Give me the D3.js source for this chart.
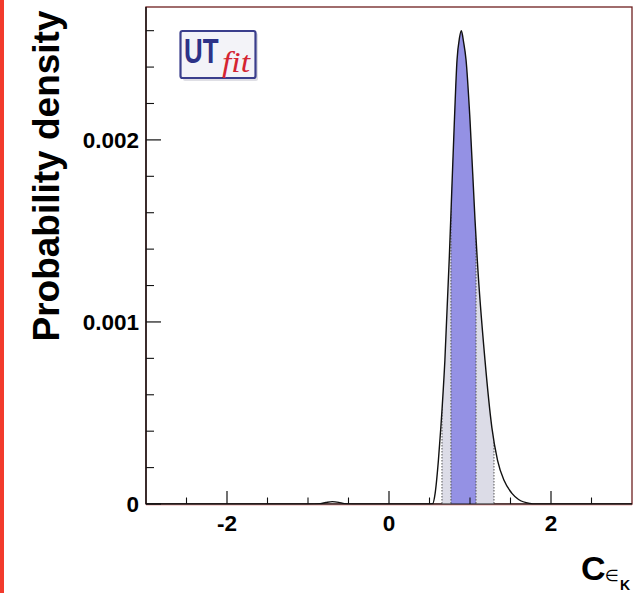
<!DOCTYPE html>
<html>
<head>
<meta charset="utf-8">
<script src="https://cdn.jsdelivr.net/npm/d3@7"></script>
<style>
  html, body { margin: 0; padding: 0; background: #fff; }
  svg { display: block; }
</style>
</head>
<body>
<svg id="chart" width="634" height="593"></svg>
<script>
// Posterior density of C_epsK
const cK = [-3.0, -1.0, -0.85, -0.78, -0.70, -0.62, -0.55, -0.45, 0.0, 0.50, 0.54, 0.57, 0.61, 0.64,
            0.69, 0.745, 0.77, 0.806, 0.84, 0.87, 0.893, 0.92, 0.951, 1.0, 1.062, 1.09, 1.185,
            1.27, 1.34, 1.42, 1.515, 1.6, 1.74, 1.8, 3.0];
const density = [0, 0, 0.000002, 0.000008, 0.000013, 0.000009, 0.000002, 0, 0, 0, 0.000002, 0.00006, 0.00024, 0.00042,
                 0.00079, 0.00136, 0.00166, 0.00209, 0.00244, 0.00256, 0.00260, 0.00254, 0.00244, 0.00211, 0.00156, 0.00134, 0.00079,
                 0.00042, 0.00024, 0.00013, 0.00006, 0.000025, 0.000003, 0, 0];

// Credible intervals: 68% and 95%
const band68 = [0.765, 1.074];
const band95 = [0.654, 1.296];

const xMajorTicks = [-2, 0, 2];
const xMinorTicks = [-2.5, -1.5, -1, -0.5, 0.5, 1, 1.5, 2.5];
const yMajorTicks = [0, 0.001, 0.002];
const yMinorTicks = [0.0002, 0.0004, 0.0006, 0.0008, 0.0012, 0.0014, 0.0016, 0.0018, 0.0022, 0.0024, 0.0026];

const svg = d3.select("#chart");
const L = 146, R = 632, T = 7, B = 504;

const x = d3.scaleLinear().domain([-3, 3]).range([L, R]);
const y = d3.scaleLinear().domain([0, 0.00273]).range([B, T]);

const pts = cK.map((v, i) => [v, density[i]]);

// left red strip
svg.append("rect").attr("x", 0).attr("y", 0).attr("width", 4).attr("height", 593).attr("fill", "#f23a2c");

// frame
svg.append("rect").attr("x", L).attr("y", T).attr("width", R - L).attr("height", B - T)
  .attr("fill", "none").attr("stroke", "#6e1f1f").attr("stroke-width", 1.3);

const area = d3.area().x(d => x(d[0])).y0(y(0)).y1(d => y(d[1])).curve(d3.curveMonotoneX);
const line = d3.line().x(d => x(d[0])).y(d => y(d[1])).curve(d3.curveMonotoneX);

const defs = svg.append("defs");
defs.append("clipPath").attr("id", "under").append("path").attr("d", area(pts));

const g = svg.append("g").attr("clip-path", "url(#under)");
g.append("rect").attr("x", x(band95[0])).attr("width", x(band95[1]) - x(band95[0]))
  .attr("y", T).attr("height", B - T).attr("fill", "#dcdce7");
g.append("rect").attr("x", x(band68[0])).attr("width", x(band68[1]) - x(band68[0]))
  .attr("y", T).attr("height", B - T).attr("fill", "#9491e4");
[band95[0], band68[0], band68[1], band95[1]].forEach(v => {
  g.append("line").attr("x1", x(v)).attr("x2", x(v)).attr("y1", T).attr("y2", B)
    .attr("stroke", "#555").attr("stroke-width", 1).attr("stroke-dasharray", "1.5,1.5");
});

svg.append("path").attr("d", line(pts)).attr("fill", "none")
  .attr("stroke", "#111").attr("stroke-width", 1.4);

// axes lines
svg.append("line").attr("x1", L).attr("x2", R).attr("y1", B + 1).attr("y2", B + 1).attr("stroke", "#e8a8a8").attr("stroke-width", 1);
svg.append("line").attr("x1", L).attr("x2", R).attr("y1", B).attr("y2", B).attr("stroke", "#111").attr("stroke-width", 1.2);
svg.append("line").attr("x1", L).attr("x2", L).attr("y1", T).attr("y2", B).attr("stroke", "#111").attr("stroke-width", 1.4);

// x ticks (inward)
xMajorTicks.forEach(v => svg.append("line").attr("x1", x(v)).attr("x2", x(v)).attr("y1", B).attr("y2", B - 13).attr("stroke", "#111").attr("stroke-width", 1.2));
xMinorTicks.forEach(v => svg.append("line").attr("x1", x(v)).attr("x2", x(v)).attr("y1", B).attr("y2", B - 6.5).attr("stroke", "#111").attr("stroke-width", 1.1));
// y ticks (inward)
yMajorTicks.forEach(v => svg.append("line").attr("x1", L).attr("x2", L + 15).attr("y1", y(v)).attr("y2", y(v)).attr("stroke", "#111").attr("stroke-width", 1.2));
yMinorTicks.forEach(v => svg.append("line").attr("x1", L).attr("x2", L + 8).attr("y1", y(v)).attr("y2", y(v)).attr("stroke", "#111").attr("stroke-width", 1.1));

const font = "'Liberation Sans', Arial, Helvetica, sans-serif";

// tick labels
const xfmt = d => d < 0 ? "-" + Math.abs(d) : String(d);
svg.append("g").selectAll("text").data(xMajorTicks).join("text")
  .attr("x", d => x(d)).attr("y", 531).attr("text-anchor", "middle")
  .attr("font-family", font).attr("font-weight", "bold").attr("font-size", 22.5).attr("fill", "#000")
  .text(xfmt);
svg.append("g").selectAll("text").data(yMajorTicks).join("text")
  .attr("x", 139).attr("y", d => y(d) + 8).attr("text-anchor", "end")
  .attr("font-family", font).attr("font-weight", "bold").attr("font-size", 22.5).attr("fill", "#000")
  .text(d => d === 0 ? "0" : d3.format(".3f")(d));

// axis titles
svg.append("text").attr("transform", "translate(59,176) rotate(-90)").attr("text-anchor", "middle")
  .attr("font-family", font).attr("font-weight", "bold").attr("font-size", 37).attr("fill", "#000")
  .text("Probability density");

const xt = svg.append("text").attr("font-family", font).attr("font-weight", "bold").attr("fill", "#000");
xt.append("tspan").attr("x", 581).attr("y", 580).attr("font-size", 34).text("C");
xt.append("tspan").attr("x", 605).attr("y", 581).attr("font-size", 16).attr("font-weight", "normal")
  .attr("font-family", "'DejaVu Sans', sans-serif").text("∈");
xt.append("tspan").attr("x", 620).attr("y", 590).attr("font-size", 14).text("K");

// UTfit logo
const logo = svg.append("g");
logo.append("rect").attr("x", 183).attr("y", 33).attr("width", 75).attr("height", 48).attr("rx", 2)
  .attr("fill", "#c9c9d4").attr("opacity", 0.6);
logo.append("rect").attr("x", 180.5).attr("y", 31).attr("width", 75).attr("height", 47).attr("rx", 2)
  .attr("fill", "#f3f3f8").attr("stroke", "#3a3e8c").attr("stroke-width", 2.2);
logo.append("text").attr("transform", "translate(184,63) scale(0.72,1)")
  .attr("font-family", font).attr("font-weight", "bold").attr("font-size", 36).attr("fill", "#2d3287").text("UT");
logo.append("text").attr("transform", "translate(222,72) scale(1.12,1)")
  .attr("font-family", "'Liberation Serif', 'Times New Roman', serif")
  .attr("font-style", "italic").attr("font-size", 30).attr("fill", "#d42432").text("fit");
</script>
</body>
</html>
